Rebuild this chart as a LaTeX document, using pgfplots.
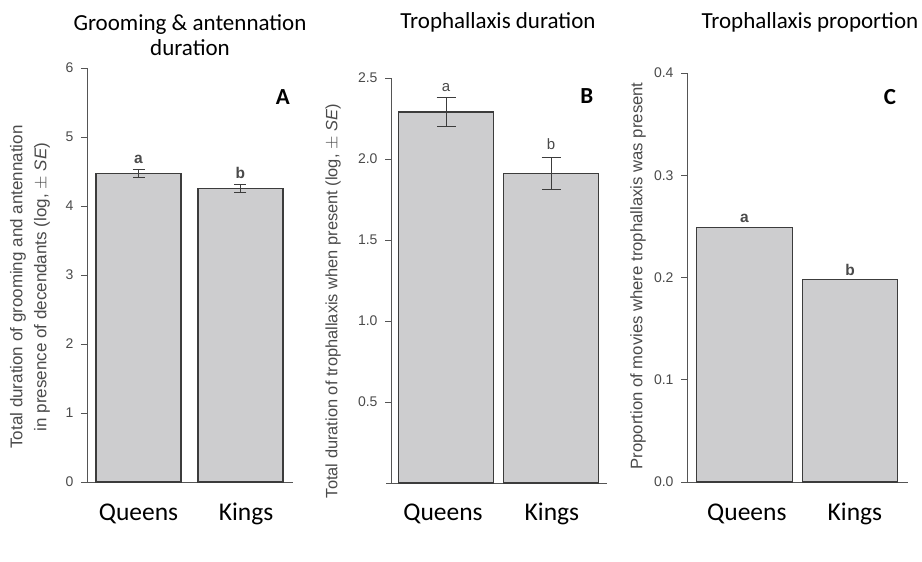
\documentclass[border=0pt]{standalone}
\usepackage{pgfplots}
\pgfplotsset{compat=1.18}
\usepackage{fontspec}
\setmainfont{Carlito}
\newfontfamily\arial{Liberation Sans}
\definecolor{barfill}{HTML}{CDCDCF}
\definecolor{bardark}{HTML}{3C3C3C}
\definecolor{axgray}{HTML}{555555}
\definecolor{tickgray}{HTML}{4A4A4A}
\pgfplotsset{
  panel/.style={
    scale only axis,
    anchor=south west,
    xmin=0, xmax=1, ymin=0,
    axis x line=bottom, axis y line=left,
    axis line style={-, draw=axgray, line width=0.9pt},
    x axis line style={shorten <=-5pt},
    tick align=outside,
    major tick length=6pt,
    ytick style={draw=axgray, line width=0.9pt},
    xtick style={draw=none},
    xticklabels={Queens,Kings},
    xticklabel style={font=\fontsize{25.5}{28}\selectfont, text=black, anchor=north, text height=16pt, text depth=5pt, yshift=-13pt},
    /pgf/number format/assume math mode=true,
    yticklabel style={font=\arial\fontsize{14}{16}\selectfont, text=tickgray, xshift=-4pt},
    ylabel style={font=\arial\fontsize{17}{24}\selectfont, text=tickgray, align=center},
    clip=false,
  },
  mybar/.style={ybar, fill=barfill, draw=bardark, line width=1.3pt,
    error bars/y dir=both, error bars/y explicit,
    error bars/error bar style={draw=bardark, line width=1pt},
    error bars/error mark options={rotate=90, mark size=#1, draw=bardark, line width=1pt}},
}
\begin{document}
\begin{tikzpicture}
\useasboundingbox (0pt,0pt) rectangle (922pt,562pt);

% Titles
\node[align=center, font=\fontsize{23}{25}\selectfont] at (190pt,526.5pt) {Grooming \& antennation\\duration};
\node[font=\fontsize{23}{25}\selectfont] at (498pt,540pt) {Trophallaxis duration};
\node[font=\fontsize{23}{25}\selectfont] at (810pt,540pt) {Trophallaxis proportion};

% Panel A
\begin{axis}[panel, at={(87pt,80pt)}, width=206pt, height=414pt, ymax=6,
  ytick={0,1,2,3,4,5,6},
  xtick={0.25,0.772},
  ylabel={Total duration of grooming and antennation\\in presence of decendants (log, $\pm$ \textit{SE})},
  ylabel style={at={(axis description cs:-0.277,0.471)}, anchor=center},
]
\addplot[mybar=6pt, bar width=0.413] coordinates {(0.25,4.47) +- (0,0.055) (0.745,4.25) +- (0,0.06)};
\node[font=\arial\bfseries\fontsize{15.5}{16}\selectfont, text=tickgray] at (axis cs:0.25,4.68) {a};
\node[font=\arial\bfseries\fontsize{15.5}{16}\selectfont, text=tickgray] at (axis cs:0.745,4.48) {b};
\node[font=\bfseries\fontsize{23}{25}\selectfont] at (axis description cs:0.951,0.93) {A};
\end{axis}

% Panel B
\begin{axis}[panel, at={(391pt,79pt)}, width=216pt, height=405pt, ymax=2.5,
  ytick={0.5,1.0,1.5,2.0,2.5},
  yticklabel style={/pgf/number format/.cd, fixed, fixed zerofill, precision=1},
  ylabel={Total duration of trophallaxis when present (log, $\pm$ \textit{SE})},
  ylabel style={font=\arial\fontsize{16.4}{20}\selectfont, at={(axis description cs:-0.268,0.449)}, anchor=center},
  xtick={0.241,0.745},
  xticklabel style={yshift=1.5pt},
]
\addplot[mybar=9.5pt, bar width=0.44] coordinates {(0.255,2.29) +- (0,0.087) (0.741,1.91) +- (0,0.10)};
\node[font=\arial\fontsize{15}{16}\selectfont, text=tickgray] at (axis cs:0.255,2.44) {a};
\node[font=\arial\fontsize{15}{16}\selectfont, text=tickgray] at (axis cs:0.741,2.09) {b};
\node[font=\bfseries\fontsize{23}{25}\selectfont] at (axis description cs:0.907,0.956) {B};
\end{axis}

% Panel C
\begin{axis}[panel, at={(687pt,80pt)}, width=221pt, height=409pt, ymax=0.4,
  ytick={0,0.1,0.2,0.3,0.4},
  yticklabel style={/pgf/number format/.cd, fixed, fixed zerofill, precision=1},
  ylabel={Proportion of movies where trophallaxis was present},
  ylabel style={font=\arial\fontsize{16.7}{20}\selectfont, at={(axis description cs:-0.222,0.504)}, anchor=center},
  xtick={0.271,0.760},
]
\addplot[ybar, fill=barfill, draw=bardark, line width=1.3pt, bar width=0.432] coordinates {(0.26,0.249) (0.738,0.198)};
\node[font=\arial\bfseries\fontsize{15.5}{16}\selectfont, text=tickgray] at (axis cs:0.26,0.258) {a};
\node[font=\arial\bfseries\fontsize{15.5}{16}\selectfont, text=tickgray] at (axis cs:0.738,0.207) {b};
\node[font=\bfseries\fontsize{23}{25}\selectfont] at (axis description cs:0.918,0.941) {C};
\end{axis}
\end{tikzpicture}
\end{document}
